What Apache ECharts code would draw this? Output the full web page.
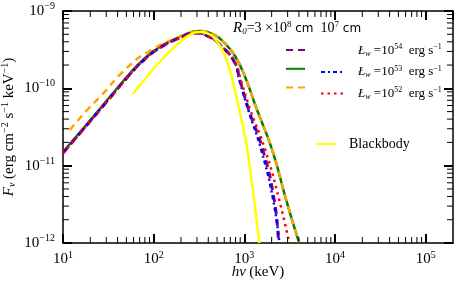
<!DOCTYPE html>
<html><head><meta charset="utf-8">
<script src="https://cdn.jsdelivr.net/npm/echarts@6/dist/echarts.min.js"></script>
<style>html,body{margin:0;padding:0;background:#fff}#c{width:457px;height:283px}</style>
</head><body><div id="c"></div>
<script>
// ---- data (photon energy hν in keV, flux Fν in erg cm^-2 s^-1 keV^-1) ----
const xTickExponents = [1, 2, 3, 4, 5];
const yTickExponents = [-12, -11, -10, -9];

// R0 = 3e8 cm, Lw = 1e54 (purple dashed)
const purpleE = [10, 21.4, 32.8, 50.5, 75.7, 116, 193, 282, 412, 558, 776, 900, 1120, 1600, 2138, 2366];
const purpleF = [1.46e-11, 4.14e-11, 7.48e-11, 1.36e-10, 2.25e-10, 3.32e-10, 4.48e-10, 5.19e-10, 4.62e-10, 3.52e-10, 2.19e-10, 1.24e-10, 5.24e-11, 1.59e-11, 3.59e-12, 1.16e-12];
// R0 = 3e8 cm, Lw = 1e53 (green solid)
const greenE = [10, 21.4, 32.8, 50.5, 75.7, 116, 193, 320, 468, 603, 776, 1000, 1355, 2032, 2896, 4018];
const greenF = [1.50e-11, 4.26e-11, 7.71e-11, 1.40e-10, 2.32e-10, 3.42e-10, 4.62e-10, 5.51e-10, 4.90e-10, 3.86e-10, 2.70e-10, 1.49e-10, 5.56e-11, 1.59e-11, 3.59e-12, 1.0e-12];
// R0 = 3e8 cm, Lw = 1e52 (orange dashed)
const orangeE = [11.9, 18.4, 25.5, 48.0, 85.9, 193, 320, 468, 603, 776, 1000, 1355, 2032, 2896, 4018];
const orangeF = [2.89e-11, 5.24e-11, 7.71e-11, 1.73e-10, 2.95e-10, 4.62e-10, 5.51e-10, 4.90e-10, 3.86e-10, 2.70e-10, 1.49e-10, 5.56e-11, 1.59e-11, 3.59e-12, 1.0e-12];
// R0 = 1e7 cm, Lw = 1e53 (blue)
const blueE = [10, 21.4, 32.8, 50.5, 75.7, 116, 193, 282, 412, 558, 776, 881, 1107, 1538, 2084, 2427];
const blueF = [1.46e-11, 4.14e-11, 7.48e-11, 1.36e-10, 2.25e-10, 3.32e-10, 4.48e-10, 5.19e-10, 4.62e-10, 3.52e-10, 2.19e-10, 1.28e-10, 5.24e-11, 1.59e-11, 3.59e-12, 1.0e-12];
// R0 = 1e7 cm, Lw = 1e52 (red)
const redE = [10, 21.4, 32.8, 50.5, 75.7, 116, 193, 282, 412, 558, 776, 927, 1164, 1702, 2427, 3126];
const redF = [1.46e-11, 4.14e-11, 7.48e-11, 1.36e-10, 2.25e-10, 3.32e-10, 4.48e-10, 5.19e-10, 4.62e-10, 3.52e-10, 2.25e-10, 1.21e-10, 5.24e-11, 1.59e-11, 3.59e-12, 1.0e-12];
// Blackbody (yellow)
const bbE = [58.7, 75.7, 116, 179, 249, 320, 412, 504, 573, 650, 757, 881, 1079, 1462];
const bbF = [8.43e-11, 1.21e-10, 2.19e-10, 3.63e-10, 4.90e-10, 5.35e-10, 5.03e-10, 3.97e-10, 3.13e-10, 2.19e-10, 1.14e-10, 5.24e-11, 1.59e-11, 1.0e-12];

const xMin = 10, xMax = 2e5, yMin = 1e-12, yMax = 1e-9;

// ---- helpers ----
const pairs = (E, F) => E.map((e, i) => [e, F[i]]);
const SERIF = 'Liberation Serif';
function powLabel(v) {
  const l = Math.log10(v), e = Math.round(l);
  if (Math.abs(l - e) > 0.01) return '';
  return '{b|10}{s|' + (e < 0 ? '\u2212' : '') + Math.abs(e) + '}';
}
const powRich = {
  b: { fontFamily: SERIF, fontSize: 15, color: '#000' },
  s: { fontFamily: SERIF, fontSize: 10, color: '#000', padding: [0, 0, 9, 0] }
};
const xMinor = [], yMinor = [];
for (let k = 1; k <= 5; k++) for (let m = 2; m <= 9; m++) { const v = m * Math.pow(10, k); if (v < xMax) xMinor.push(v); }
for (let k = -12; k <= -10; k++) for (let m = 2; m <= 9; m++) yMinor.push(m * Math.pow(10, k));

const names = {
  purple: 'R0=3e8 cm, Lw=1e54', green: 'R0=3e8 cm, Lw=1e53', orange: 'R0=3e8 cm, Lw=1e52',
  blank: 'R0=1e7 cm, Lw=1e54', blue: 'R0=1e7 cm, Lw=1e53', red: 'R0=1e7 cm, Lw=1e52', bb: 'Blackbody'
};
const lwLabel = { [names.blank]: '54', [names.blue]: '53', [names.red]: '52' };

function lineSeries(name, data, color, width, type) {
  return { name, type: 'line', data, showSymbol: false, symbol: 'emptyCircle', smooth: 0.5,
    lineStyle: { color, width, type }, itemStyle: { color }, silent: true, clip: true };
}

const axisCommon = {
  type: 'log', logBase: 10,
  axisLine: { show: true, lineStyle: { color: '#000', width: 1.5 } },
  axisTick: { show: true, inside: true, length: 9, lineStyle: { color: '#000', width: 2 } },
  splitLine: { show: false }
};
const hiddenSymbol = { opacity: 0, color: 'rgba(0,0,0,0)', borderWidth: 0 };

const chart = echarts.init(document.getElementById('c'), null, { renderer: 'canvas' });
chart.setOption({
  animation: false,
  backgroundColor: '#fff',
  grid: { left: 63, right: 4, top: 11, bottom: 40, outerBoundsMode: 'none', containLabel: false },
  title: {
    left: 233, top: 20, padding: 0,
    text: '{r|R}{sub|0}{n|=3 \u00d710}{sup|8}{c| cm}{n|  10}{sup|7}{c| cm}',
    textStyle: { fontWeight: 'normal', rich: {
      r: { fontFamily: SERIF, fontStyle: 'italic', fontWeight: 'normal', fontSize: 15, color: '#000' },
      sub: { fontFamily: SERIF, fontStyle: 'italic', fontWeight: 'normal', fontSize: 9, color: '#000', padding: [7, 0, 0, 0] },
      n: { fontFamily: SERIF, fontWeight: 'normal', fontSize: 14, color: '#000' },
      sup: { fontFamily: SERIF, fontWeight: 'normal', fontSize: 9, color: '#000', padding: [0, 0, 8, 0] },
      c: { fontFamily: 'DejaVu Sans', fontWeight: 'normal', fontSize: 12, color: '#000' }
    } }
  },
  legend: [
    { data: [names.purple, names.green, names.orange], orient: 'vertical', left: 285, top: 44, padding: 0,
      itemWidth: 19, itemHeight: 12, itemGap: 7, selectedMode: false, formatter: () => '',
      itemStyle: hiddenSymbol, textStyle: { fontSize: 1 } },
    { data: [names.blank, names.blue, names.red], orient: 'vertical', left: 320, top: 43, padding: 0,
      itemWidth: 22, itemHeight: 14, itemGap: 7, selectedMode: false, itemStyle: hiddenSymbol,
      formatter: (n) => '{l|\u0141}{w|w}{n| =10}{sup|' + lwLabel[n] + '}{n|  erg s}{sup|\u22121}',
      textStyle: { rich: {
        l: { fontFamily: SERIF, fontStyle: 'italic', fontSize: 13, color: '#000', padding: [0, 0, 0, 10] },
        w: { fontFamily: SERIF, fontStyle: 'italic', fontSize: 8, color: '#000', padding: [6, 0, 0, 0] },
        n: { fontFamily: SERIF, fontSize: 13, color: '#000' },
        sup: { fontFamily: SERIF, fontSize: 8, color: '#000', padding: [0, 0, 7, 0] }
      } } },
    { data: [names.bb], orient: 'vertical', left: 315, top: 137, padding: 0, itemWidth: 20, itemHeight: 12,
      selectedMode: false, formatter: () => 'Blackbody', itemStyle: hiddenSymbol,
      textStyle: { fontFamily: SERIF, fontSize: 14, color: '#000', padding: [0, 0, 0, 8] } }
  ],
  xAxis: [
    Object.assign({}, axisCommon, { position: 'bottom', min: xMin, max: xMax,
      axisLabel: { formatter: powLabel, rich: powRich, margin: 7, showMaxLabel: false },
      name: '{i|h\u03bd} {n|(keV)}', nameLocation: 'middle', nameGap: 22, nameMoveOverlap: false,
      nameTextStyle: { rich: {
        i: { fontFamily: SERIF, fontStyle: 'italic', fontSize: 15, color: '#000' },
        n: { fontFamily: SERIF, fontSize: 15, color: '#000' } } } }),
    Object.assign({}, axisCommon, { position: 'top', min: xMin, max: xMax, axisLabel: { show: false } })
  ],
  yAxis: [
    Object.assign({}, axisCommon, { position: 'left', min: yMin, max: yMax,
      axisLabel: { formatter: powLabel, rich: powRich, margin: 8 },
      name: '{i|F}{sub|\u03bd}{n| (erg cm}{sup|\u22122}{n| s}{sup|\u22121}{n| keV}{sup|\u22121}{n|)}',
      nameLocation: 'middle', nameGap: 45, nameRotate: 90, nameMoveOverlap: false,
      nameTextStyle: { rich: {
        i: { fontFamily: SERIF, fontStyle: 'italic', fontSize: 15, color: '#000' },
        sub: { fontFamily: SERIF, fontStyle: 'italic', fontSize: 10, color: '#000', padding: [6, 0, 0, 0] },
        n: { fontFamily: SERIF, fontSize: 15, color: '#000' },
        sup: { fontFamily: SERIF, fontSize: 10, color: '#000', padding: [0, 0, 8, 0] } } } }),
    Object.assign({}, axisCommon, { position: 'right', min: yMin, max: yMax, axisLabel: { show: false } })
  ],
  series: [
    lineSeries(names.green, pairs(greenE, greenF), '#008000', 2.5, 'solid'),
    lineSeries(names.orange, pairs(orangeE, orangeF), '#FFA500', 2.5, [7, 5]),
    lineSeries(names.purple, pairs(purpleE, purpleF), '#800080', 3, [7, 5]),
    lineSeries(names.blue, pairs(blueE, blueF), '#0000FF', 2.5, [4, 3, 2, 3]),
    lineSeries(names.red, pairs(redE, redF), '#FF0000', 2.5, [2.5, 4]),
    lineSeries(names.blank, [], 'rgba(0,0,0,0)', 1, 'solid'),
    lineSeries(names.bb, pairs(bbE, bbF), '#FFFF00', 2.5, 'solid'),
    { type: 'custom', name: 'xminor', silent: true, clip: false, z: 5,
      data: xMinor.map(v => [v, yMin]),
      renderItem: (params, api) => {
        const p = api.coord([api.value(0), yMin]), cs = params.coordSys;
        const st = { stroke: '#000', lineWidth: 1 };
        return { type: 'group', children: [
          { type: 'line', shape: { x1: p[0], y1: cs.y + cs.height, x2: p[0], y2: cs.y + cs.height - 6 }, style: st },
          { type: 'line', shape: { x1: p[0], y1: cs.y, x2: p[0], y2: cs.y + 6 }, style: st } ] };
      } },
    { type: 'custom', name: 'yminor', silent: true, clip: false, z: 5,
      data: yMinor.map(v => [xMin, v]),
      renderItem: (params, api) => {
        const p = api.coord([xMin, api.value(1)]), cs = params.coordSys;
        const st = { stroke: '#000', lineWidth: 1 };
        return { type: 'group', children: [
          { type: 'line', shape: { x1: cs.x, y1: p[1], x2: cs.x + 6, y2: p[1] }, style: st },
          { type: 'line', shape: { x1: cs.x + cs.width, y1: p[1], x2: cs.x + cs.width - 6, y2: p[1] }, style: st } ] };
      } }
  ]
});
</script></body></html>
